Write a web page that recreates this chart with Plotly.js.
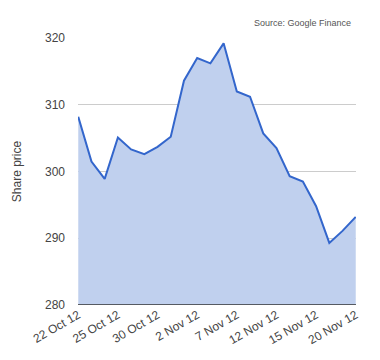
<!DOCTYPE html>
<html><head><meta charset="utf-8">
<script src="https://cdn.plot.ly/plotly-3.0.1.min.js"></script>
<style>html,body{margin:0;padding:0;background:#fff}#chart{width:380px;height:360px}</style>
</head><body><div id="chart"></div>
<script>
const dates = ["22 Oct 12","23 Oct 12","24 Oct 12","25 Oct 12","26 Oct 12","29 Oct 12","30 Oct 12","31 Oct 12","1 Nov 12","2 Nov 12","5 Nov 12","6 Nov 12","7 Nov 12","8 Nov 12","9 Nov 12","12 Nov 12","13 Nov 12","14 Nov 12","15 Nov 12","16 Nov 12","19 Nov 12","20 Nov 12"];
const prices = [308.2,301.5,298.9,305.1,303.3,302.6,303.7,305.2,313.6,317.0,316.2,319.2,312.0,311.2,305.7,303.5,299.3,298.5,294.8,289.3,291.1,293.2];
const tickLabels = ["22 Oct 12","25 Oct 12","30 Oct 12","2 Nov 12","7 Nov 12","12 Nov 12","15 Nov 12","20 Nov 12"];
const yTicks = [280,290,300,310,320];

const trace = {
  x: dates, y: prices, type: 'scatter', mode: 'lines',
  fill: 'tozeroy', fillcolor: 'rgb(192,208,238)',
  line: {color: '#3366cc', width: 2}, hoverinfo: 'skip'
};
const layout = {
  width: 380, height: 360,
  margin: {l: 78, r: 24, t: 38, b: 55},
  paper_bgcolor: '#fff', plot_bgcolor: '#fff',
  font: {family: 'Liberation Sans, Arial, sans-serif', size: 12, color: '#444'},
  showlegend: false,
  xaxis: {
    type: 'category', tickmode: 'array', tickvals: tickLabels, ticktext: tickLabels,
    tickangle: -30, showgrid: false, zeroline: false, showline: false,
    ticks: '', range: [-0.02, dates.length - 0.98],
    tickfont: {size: 12, color: '#444'}
  },
  yaxis: {
    range: [280, 320], tickmode: 'array', tickvals: yTicks,
    showgrid: true, gridcolor: '#cccccc', gridwidth: 1,
    zeroline: false, showline: false, ticks: '',
    ticklabelstandoff: 12,
    tickfont: {size: 12, color: '#444'},
    title: {text: 'Share price', font: {size: 12, color: '#444'}, standoff: 20}
  },
  shapes: [{type: 'line', xref: 'paper', yref: 'y', x0: 0, x1: 1, y0: 280, y1: 280,
    line: {color: '#333', width: 1.5}}],
  annotations: [{text: 'Source: Google Finance', xref: 'paper', yref: 'paper',
    x: 0.99, y: 1.03, xanchor: 'right', yanchor: 'bottom', showarrow: false,
    font: {size: 9, color: '#555'}}]
};
Plotly.newPlot('chart', [trace], layout, {staticPlot: true, displayModeBar: false});
</script></body></html>
